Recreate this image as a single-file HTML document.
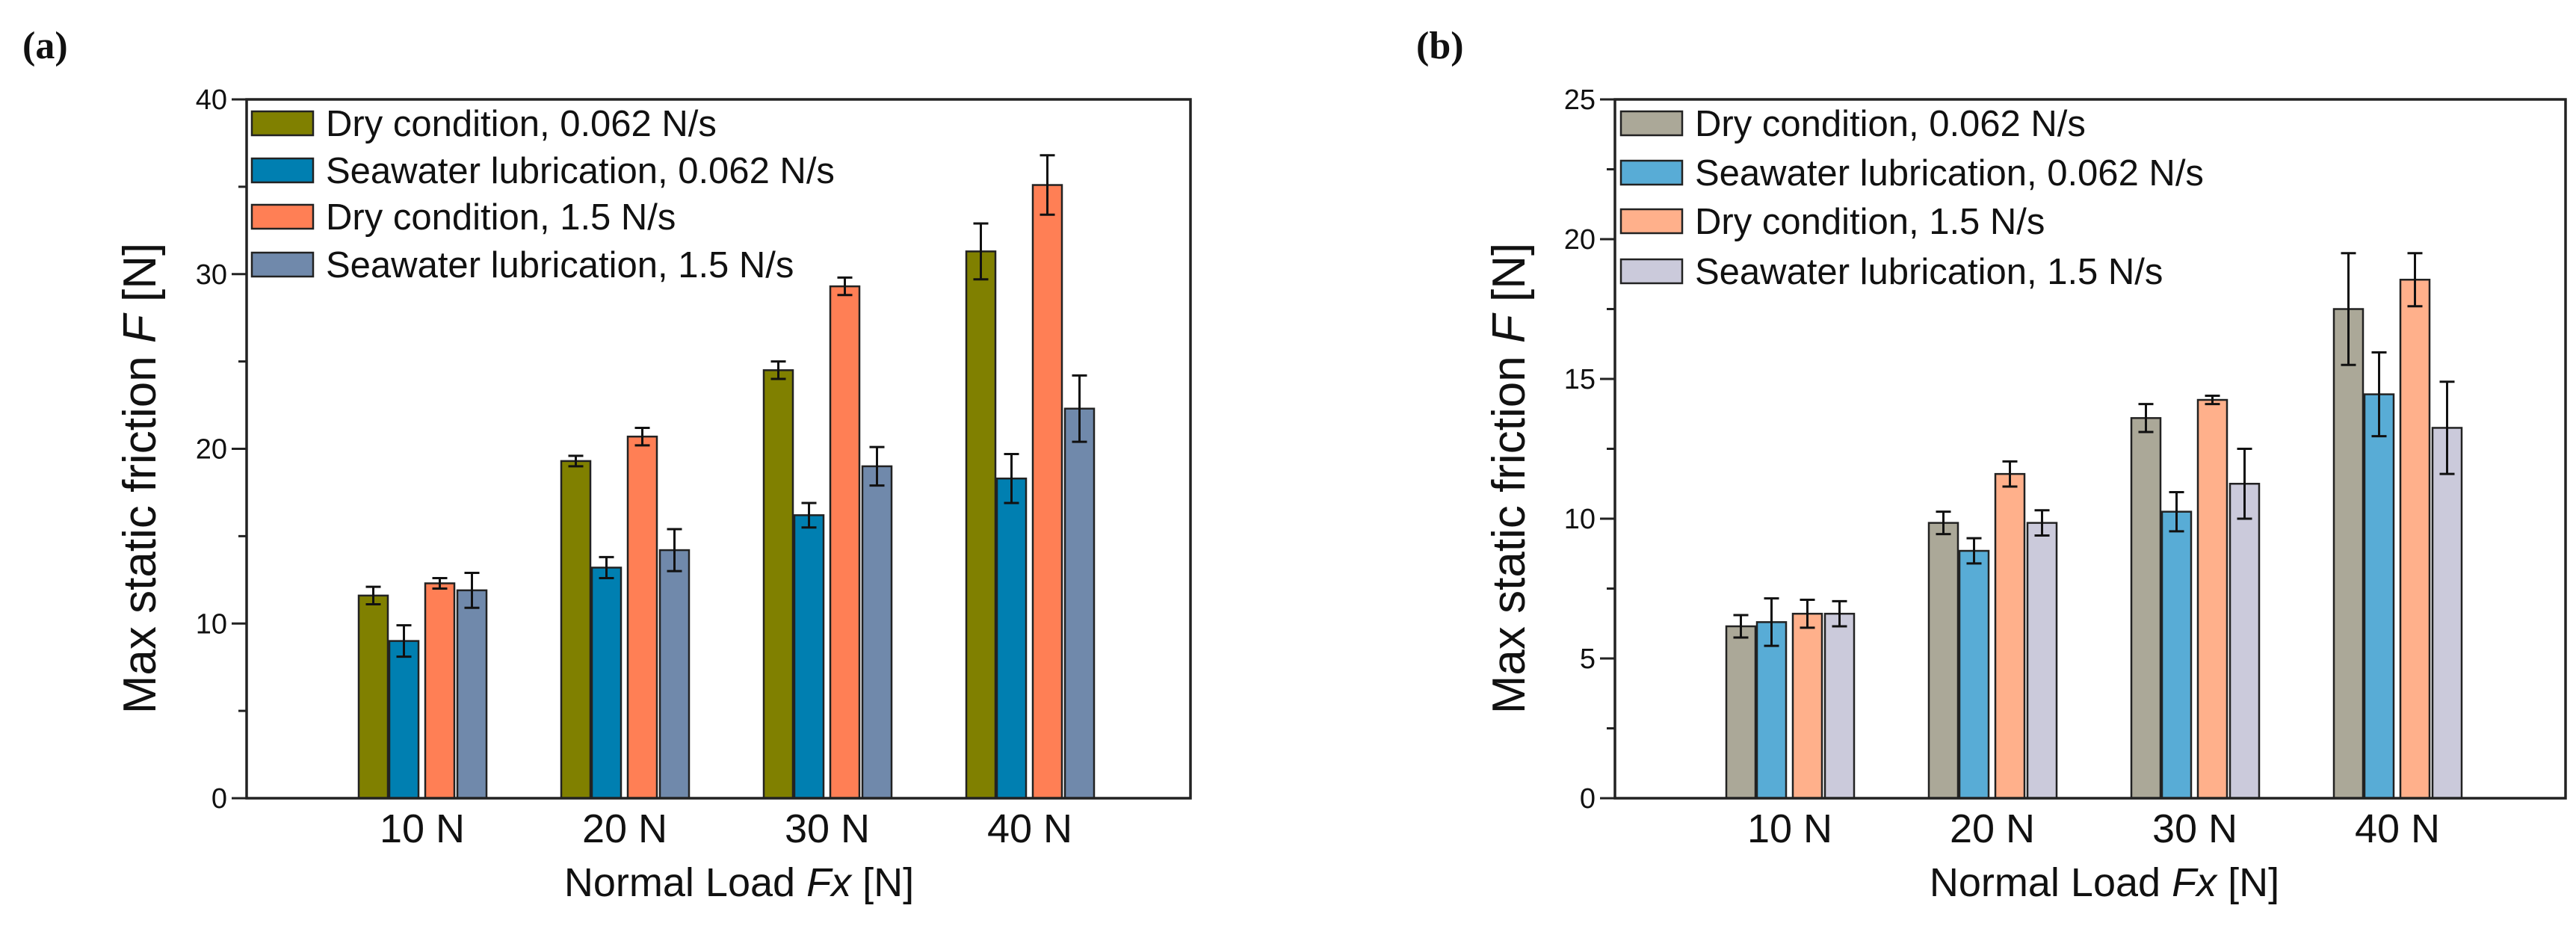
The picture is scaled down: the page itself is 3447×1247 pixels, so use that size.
<!DOCTYPE html>
<html><head><meta charset="utf-8"><style>
html,body{margin:0;padding:0;background:#fff;}
svg{display:block;font-family:"Liberation Sans",Arial,sans-serif;}
</style></head><body>
<svg id="s" width="3447" height="1247" xmlns="http://www.w3.org/2000/svg"></svg>
<script>
const categories = ["10 N","20 N","30 N","40 N"];
const seriesNames = ["Dry condition, 0.062 N/s","Seawater lubrication, 0.062 N/s","Dry condition, 1.5 N/s","Seawater lubrication, 1.5 N/s"];
const aDry062 = [11.6,19.3,24.5,31.3];
const aSea062 = [9.0,13.2,16.2,18.3];
const aDry15 = [12.3,20.7,29.3,35.1];
const aSea15 = [11.9,14.2,19.0,22.3];
const aErrDry062 = [0.5,0.3,0.5,1.6];
const aErrSea062 = [0.9,0.6,0.7,1.4];
const aErrDry15 = [0.3,0.5,0.5,1.7];
const aErrSea15 = [1.0,1.2,1.1,1.9];
const bDry062 = [6.15,9.85,13.6,17.5];
const bSea062 = [6.3,8.85,10.25,14.45];
const bDry15 = [6.6,11.6,14.25,18.55];
const bSea15 = [6.6,9.85,11.25,13.25];
const bErrDry062 = [0.4,0.4,0.5,2.0];
const bErrSea062 = [0.85,0.45,0.7,1.5];
const bErrDry15 = [0.5,0.45,0.15,0.95];
const bErrSea15 = [0.45,0.45,1.25,1.65];
const aTicks = [0,10,20,30,40];
const bTicks = [0,5,10,15,20,25];

const NS="http://www.w3.org/2000/svg";
const svg=document.getElementById('s');
function mk(tag,attrs,parent){const e=document.createElementNS(NS,tag);for(const k in attrs)e.setAttribute(k,attrs[k]);(parent||svg).appendChild(e);return e;}

function panel(cfg){
  const g=mk('g',{});
  
  
  const L=cfg.left,R=cfg.right,T=133,B=1068;
  const y=v=>B-(v/cfg.max)*(B-T);
  const groupLeft=i=>cfg.g0+i*271;
  const offs=[0,41,89,132], bw=39;
  cfg.series.forEach((vals,si)=>{
    vals.forEach((v,i)=>{
      const x=groupLeft(i)+offs[si];
      const r=mk('rect',{x:x,y:y(v),width:bw,height:B-y(v),fill:cfg.colors[si],stroke:'#222','stroke-width':2.5},g);
      
      
      const e=cfg.errs[si][i], cx=x+bw/2;
      const p=mk('path',{d:`M${cx},${y(v+e)}V${y(v-e)}M${cx-10},${y(v+e)}H${cx+10}M${cx-10},${y(v-e)}H${cx+10}`,stroke:'#111','stroke-width':3,fill:'none'},g);
      
      
    });
  });
  const f=mk('rect',{x:L,y:T,width:R-L,height:B-T,fill:'none',stroke:'#222','stroke-width':3.5},g);
  
  
  cfg.ticks.forEach((t,k)=>{
    mk('line',{x1:L-20,x2:L,y1:y(t),y2:y(t),stroke:'#222','stroke-width':3},g);
    const tx=mk('text',{x:L-26,y:y(t)+13,'font-size':38,'text-anchor':'end',fill:'#111'},g);
    tx.textContent=t;
    
    
    if(k<cfg.ticks.length-1){const m=(t+cfg.ticks[k+1])/2;mk('line',{x1:L-11,x2:L,y1:y(m),y2:y(m),stroke:'#222','stroke-width':3},g);}
  });
  categories.forEach((c,i)=>{
    const tx=mk('text',{x:groupLeft(i)+85,y:1127,'font-size':54,'text-anchor':'middle',fill:'#111'},g);
    tx.textContent=c;
    
    
  });
  const xt=mk('text',{x:cfg.xtc,y:1199,'font-size':54,'text-anchor':'middle',fill:'#111'},g);
  xt.innerHTML='Normal Load <tspan font-style="italic">Fx</tspan> [N]';
  
  
  const yt=mk('text',{x:0,y:0,'font-size':62,'text-anchor':'middle',fill:'#111',transform:`translate(${cfg.ytc+22},640) rotate(-90)`},g);
  yt.innerHTML='Max static friction  <tspan font-style="italic">F</tspan> [N]';
  
  
  seriesNames.forEach((n,si)=>{
    const ly=cfg.legY[si];
    const sw=mk('rect',{x:cfg.legX,y:ly-16,width:82,height:32,fill:cfg.colors[si],stroke:'#222','stroke-width':2.5},g);
    
    
    const tx=mk('text',{x:cfg.legX+99,y:ly+17,'font-size':49,fill:'#111'},g);
    tx.textContent=n;
    
    
  });
  const pl=mk('text',{x:cfg.plx,y:78,'font-size':52,'font-weight':'bold','font-family':'Liberation Serif, serif',fill:'#111'},g);
  pl.textContent=cfg.label;
  
  
}
panel({name:'panel-a',label:'(a)',left:330,right:1593,max:40,g0:480,ticks:aTicks,
  series:[aDry062,aSea062,aDry15,aSea15],errs:[aErrDry062,aErrSea062,aErrDry15,aErrSea15],
  colors:['#808000','#007fb1','#ff7f55','#7089ab'],xtc:989,ytc:186,legX:337,legY:[165,228,290,354],plx:30});
panel({name:'panel-b',label:'(b)',left:2161,right:3433,max:25,g0:2310,ticks:bTicks,
  series:[bDry062,bSea062,bDry15,bSea15],errs:[bErrDry062,bErrSea062,bErrDry15,bErrSea15],
  colors:['#aba898','#58acd6','#ffb08b','#cbcadb'],xtc:2816,ytc:2018,legX:2169,legY:[165,231,296,363],plx:1895});
</script>
</body></html>
